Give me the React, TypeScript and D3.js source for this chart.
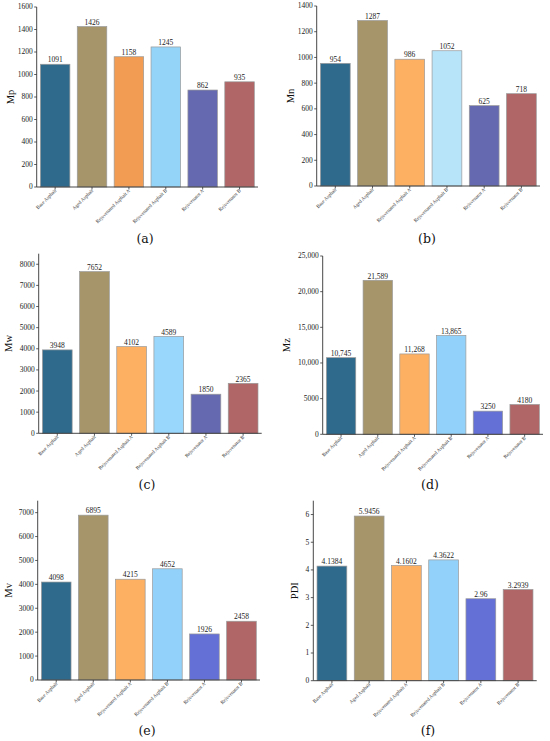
import React from "react";
import * as d3 from "d3";

const categories = [
  "Base Asphalt",
  "Aged Asphalt",
  "Rejuvenated Asphalt A",
  "Rejuvenated Asphalt B",
  "Rejuvenator A",
  "Rejuvenator B",
];

const mpValues = [1091, 1426, 1158, 1245, 862, 935];
const mnValues = [954, 1287, 986, 1052, 625, 718];
const mwValues = [3948, 7652, 4102, 4589, 1850, 2365];
const mzValues = [10745, 21589, 11268, 13865, 3250, 4180];
const mvValues = [4098, 6895, 4215, 4652, 1926, 2458];
const pdiValues = [4.1384, 5.9456, 4.1602, 4.3622, 2.96, 3.2939];

const mpTicks = [0, 200, 400, 600, 800, 1000, 1200, 1400, 1600];
const mnTicks = [0, 200, 400, 600, 800, 1000, 1200, 1400];
const mwTicks = [0, 1000, 2000, 3000, 4000, 5000, 6000, 7000, 8000];
const mzTicks = [0, 5000, 10000, 15000, 20000, 25000];
const mvTicks = [0, 1000, 2000, 3000, 4000, 5000, 6000, 7000];
const pdiTicks = [0, 1, 2, 3, 4, 5, 6];

const paletteA = ["#2f6a8c", "#a6956a", "#f29b52", "#93d4f8", "#6469b0", "#b06566"];
const paletteB = ["#2f6a8c", "#a6956a", "#fdb062", "#b8e4fa", "#6469b0", "#b06566"];
const paletteC = ["#2f6a8c", "#a6956a", "#fdb062", "#99d8fc", "#6469b0", "#b06566"];
const paletteD = ["#2f6a8c", "#a6956a", "#fdb062", "#92d2fa", "#6470d6", "#b06566"];

const commaFmt = d3.format(",");
const bigFmt = (v: number) => (v >= 10000 ? commaFmt(v) : String(v));
const plainFmt = (v: number) => String(v);

type Panel = {
  label: string;
  tag: string;
  values: number[];
  ticks: number[];
  max: number;
  colors: string[];
  fmt: (v: number) => string;
  left: number;
  right: number;
  top: number;
  bottom: number;
  ylabX: number;
  titleX: number;
  titleY: number;
};

const panels: Panel[] = [
  { label: "Mp", tag: "(a)", values: mpValues, ticks: mpTicks, max: 1600, colors: paletteA, fmt: plainFmt,
    left: 36.7, right: 258, top: 7, bottom: 187, ylabX: 10, titleX: 145, titleY: 243 },
  { label: "Mn", tag: "(b)", values: mnValues, ticks: mnTicks, max: 1400, colors: paletteB, fmt: plainFmt,
    left: 316.7, right: 540, top: 6, bottom: 186, ylabX: 290, titleX: 427, titleY: 243 },
  { label: "Mw", tag: "(c)", values: mwValues, ticks: mwTicks, max: 8500, colors: paletteC, fmt: plainFmt,
    left: 38.7, right: 261.7, top: 253.7, bottom: 433.3, ylabX: 8, titleX: 147, titleY: 489 },
  { label: "Mz", tag: "(d)", values: mzValues, ticks: mzTicks, max: 25000, colors: paletteD, fmt: bigFmt,
    left: 322.7, right: 543, top: 256, bottom: 434.3, ylabX: 286, titleX: 430, titleY: 489 },
  { label: "Mv", tag: "(e)", values: mvValues, ticks: mvTicks, max: 7500, colors: paletteD, fmt: plainFmt,
    left: 37.7, right: 260, top: 500.7, bottom: 680, ylabX: 8, titleX: 147, titleY: 735 },
  { label: "PDI", tag: "(f)", values: pdiValues, ticks: pdiTicks, max: 6.5, colors: paletteD, fmt: plainFmt,
    left: 313.3, right: 536.7, top: 500.7, bottom: 680.7, ylabX: 294, titleX: 428, titleY: 735 },
];

const FONT = "'Liberation Serif', 'Times New Roman', serif";

function BarPanel({ p }: { p: Panel }) {
  const x = d3.scaleBand<string>().domain(categories).range([p.left, p.right]).paddingInner(0.2).paddingOuter(0.1);
  const y = d3.scaleLinear().domain([0, p.max]).range([p.bottom, p.top]);
  const midY = (p.top + p.bottom) / 2;
  return (
    <g>
      {categories.map((c, i) => (
        <g key={c}>
          <rect
            x={x(c)!}
            y={y(p.values[i])}
            width={x.bandwidth()}
            height={y(0) - y(p.values[i])}
            fill={p.colors[i]}
            stroke="#9a9a9a"
            strokeWidth={0.7}
          />
          <text
            x={x(c)! + x.bandwidth() / 2}
            y={y(p.values[i]) - 1.8}
            textAnchor="middle"
            fontSize={7.5}
            fontFamily={FONT}
            fill="#222"
          >
            {p.fmt(p.values[i])}
          </text>
        </g>
      ))}
      <line x1={p.left} x2={p.left} y1={p.top} y2={p.bottom} stroke="#333" strokeWidth={0.9} />
      {p.ticks.map((t) => (
        <g key={t}>
          <line x1={p.left - 2.5} x2={p.left} y1={y(t)} y2={y(t)} stroke="#333" strokeWidth={0.8} />
          <text x={p.left - 4} y={y(t)} dy="0.33em" textAnchor="end" fontSize={7.5} fontFamily={FONT} fill="#222">
            {p.fmt(t)}
          </text>
        </g>
      ))}
      <line x1={p.left} x2={p.right} y1={p.bottom} y2={p.bottom} stroke="#333" strokeWidth={0.9} />
      {categories.map((c) => {
        const cx = x(c)! + x.bandwidth() / 2;
        return (
          <g key={c}>
            <line x1={cx} x2={cx} y1={p.bottom} y2={p.bottom + 2.5} stroke="#333" strokeWidth={0.8} />
            <text
              transform={`translate(${cx + 1.5},${p.bottom + 4}) rotate(-45)`}
              textAnchor="end"
              fontSize={5}
              fontFamily={FONT}
              fill="#333"
            >
              {c}
            </text>
          </g>
        );
      })}
      <text
        transform={`translate(${p.ylabX + 4},${midY}) rotate(-90)`}
        textAnchor="middle"
        fontSize={10.5}
        fontFamily={FONT}
        fill="#111"
      >
        {p.label}
      </text>
      <text x={p.titleX} y={p.titleY} textAnchor="middle" fontSize={12.5} fontFamily="'DejaVu Serif', serif" fill="#111">
        {p.tag}
      </text>
    </g>
  );
}

export default function App() {
  return (
    <svg
      width={550}
      height={741}
      viewBox="0 0 550 741"
      style={{ position: "absolute", left: 0, top: 0, background: "#fff" }}
    >
      <rect x={0} y={0} width={550} height={741} fill="#fff" />
      {panels.map((p) => (
        <BarPanel key={p.tag} p={p} />
      ))}
    </svg>
  );
}
